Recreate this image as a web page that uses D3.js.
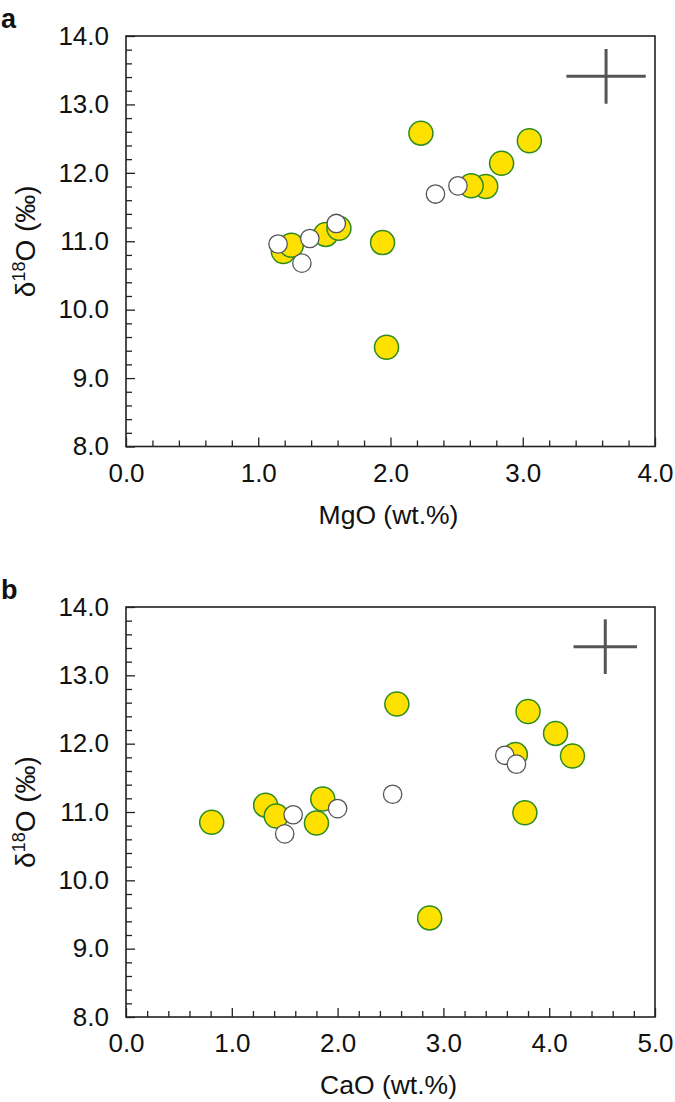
<!DOCTYPE html>
<html>
<head>
<meta charset="utf-8">
<script src="https://cdn.jsdelivr.net/npm/d3@7"></script>
<style>
  body { margin: 0; background: #fff; }
  svg { display: block; }
  text { font-family: "Liberation Sans", Arial, Helvetica, sans-serif; fill: #111; }
</style>
</head>
<body>
<svg id="chart" width="675" height="1102"></svg>
<script>
// ---- Data ----
// Panel a: MgO vs δ18O
const mgoYellowX = [2.23, 3.05, 2.84, 2.72, 2.61, 1.94, 1.97, 1.19, 1.25, 1.51, 1.61];
const mgoYellowY = [12.58, 12.47, 12.14, 11.80, 11.81, 10.98, 9.45, 10.85, 10.94, 11.10, 11.19];
const mgoWhiteX = [1.15, 1.33, 1.39, 1.59, 2.34, 2.51];
const mgoWhiteY = [10.96, 10.68, 11.04, 11.26, 11.69, 11.81];
// Panel b: CaO vs δ18O
const caoYellowX = [0.81, 1.32, 1.42, 1.86, 1.80, 2.56, 3.80, 4.06, 4.22, 3.68, 3.77, 2.87];
const caoYellowY = [10.85, 11.10, 10.94, 11.19, 10.84, 12.58, 12.47, 12.15, 11.82, 11.84, 10.99, 9.45];
const caoWhiteX = [1.58, 1.50, 2.00, 2.52, 3.58, 3.69];
const caoWhiteY = [10.96, 10.68, 11.05, 11.26, 11.83, 11.70];
// Analytical uncertainty crosshair (center x, center y, ±x, ±y)
const errA = [3.63, 13.41, 0.30, 0.40];
const errB = [4.53, 13.42, 0.30, 0.40];
// Axes
const yDomain = [8, 14];
const yMajorTicks = [8, 9, 10, 11, 12, 13, 14];
const xDomainA = [0, 4];
const xMajorTicksA = [0, 1, 2, 3, 4];
const xDomainB = [0, 5];
const xMajorTicksB = [0, 1, 2, 3, 4, 5];
const minorStep = 0.2;
const xLabelA = "MgO (wt.%)";
const xLabelB = "CaO (wt.%)";
const panelLabels = ["a", "b"];

// ---- Drawing ----
const svg = d3.select("#chart");
const FS = 26;

function range(a, b, step) {
  const out = [];
  const n = Math.round((b - a) / step);
  for (let i = 0; i <= n; i++) out.push(+(a + i * step).toFixed(4));
  return out;
}

function panel(opts) {
  const { left, top, width, height, xDomain, xTicks, xs, ys, wx, wy, err, xLabel, tag } = opts;
  const g = svg.append("g").attr("transform", `translate(${left},${top})`);
  const x = d3.scaleLinear().domain(xDomain).range([0, width]);
  const y = d3.scaleLinear().domain(yDomain).range([height, 0]);

  const xMinor = range(xDomain[0], xDomain[1], minorStep).filter(v => !xTicks.some(t => Math.abs(t - v) < 1e-6));
  const yMinor = range(yDomain[0], yDomain[1], minorStep).filter(v => !yMajorTicks.some(t => Math.abs(t - v) < 1e-6));

  // minor ticks
  g.append("g").attr("transform", `translate(0,${height})`)
    .call(d3.axisBottom(x).tickValues(xMinor).tickSize(-6).tickFormat(""))
    .call(s => s.select(".domain").remove())
    .call(s => s.selectAll("line").attr("stroke", "#222").attr("stroke-width", 1.3));
  g.append("g")
    .call(d3.axisLeft(y).tickValues(yMinor).tickSize(-6).tickFormat(""))
    .call(s => s.select(".domain").remove())
    .call(s => s.selectAll("line").attr("stroke", "#222").attr("stroke-width", 1.3));

  // major ticks with labels
  g.append("g").attr("transform", `translate(0,${height})`)
    .call(d3.axisBottom(x).tickValues(xTicks).tickSize(-9).tickPadding(17).tickFormat(d3.format(".1f")))
    .call(s => s.select(".domain").remove())
    .call(s => s.selectAll("line").attr("stroke", "#222").attr("stroke-width", 1.3))
    .call(s => s.selectAll("text").attr("font-size", FS).attr("fill", "#111")
      .attr("font-family", '"Liberation Sans", Arial, Helvetica, sans-serif'));
  g.append("g")
    .call(d3.axisLeft(y).tickValues(yMajorTicks).tickSize(-9).tickPadding(17).tickFormat(d3.format(".1f")))
    .call(s => s.select(".domain").remove())
    .call(s => s.selectAll("line").attr("stroke", "#222").attr("stroke-width", 1.3))
    .call(s => s.selectAll("text").attr("font-size", FS).attr("fill", "#111")
      .attr("font-family", '"Liberation Sans", Arial, Helvetica, sans-serif'));

  // frame
  g.append("rect").attr("x", 0).attr("y", 0).attr("width", width).attr("height", height)
    .attr("fill", "none").attr("stroke", "#222").attr("stroke-width", 1.6);

  // error crosshair
  const [cx, cy, ex, ey] = err;
  g.append("line").attr("x1", x(cx - ex)).attr("x2", x(cx + ex)).attr("y1", y(cy)).attr("y2", y(cy))
    .attr("stroke", "#555").attr("stroke-width", 3);
  g.append("line").attr("x1", x(cx)).attr("x2", x(cx)).attr("y1", y(cy - ey)).attr("y2", y(cy + ey))
    .attr("stroke", "#555").attr("stroke-width", 3);

  // yellow points
  g.append("g").selectAll("circle").data(xs.map((v, i) => [v, ys[i]])).join("circle")
    .attr("cx", d => x(d[0])).attr("cy", d => y(d[1])).attr("r", 12)
    .attr("fill", "#FFE100").attr("stroke", "#2E8B1F").attr("stroke-width", 1.5);
  // white points
  g.append("g").selectAll("circle").data(wx.map((v, i) => [v, wy[i]])).join("circle")
    .attr("cx", d => x(d[0])).attr("cy", d => y(d[1])).attr("r", 9.2)
    .attr("fill", "#fff").attr("stroke", "#555").attr("stroke-width", 1.3);

  // x label
  g.append("text").attr("x", width / 2 - 2).attr("y", height + 77)
    .attr("text-anchor", "middle").attr("font-size", 26.5).text(xLabel);

  // y label
  const yl = g.append("text").attr("transform", `translate(${-91},${height / 2}) rotate(-90)`)
    .attr("text-anchor", "middle").attr("font-size", 28);
  yl.append("tspan").text("δ");
  yl.append("tspan").attr("font-size", 18).attr("dy", -10).text("18");
  yl.append("tspan").attr("dy", 10).text("O (‰)");

  // panel tag
  svg.append("text").attr("x", 1).attr("y", top - 8).attr("font-size", 27).attr("font-weight", "bold").text(tag);
}

panel({ left: 126, top: 36, width: 529, height: 410.5, xDomain: xDomainA, xTicks: xMajorTicksA,
  xs: mgoYellowX, ys: mgoYellowY, wx: mgoWhiteX, wy: mgoWhiteY, err: errA, xLabel: xLabelA, tag: panelLabels[0] });
panel({ left: 126, top: 607, width: 529, height: 410, xDomain: xDomainB, xTicks: xMajorTicksB,
  xs: caoYellowX, ys: caoYellowY, wx: caoWhiteX, wy: caoWhiteY, err: errB, xLabel: xLabelB, tag: panelLabels[1] });
</script>
</body>
</html>
